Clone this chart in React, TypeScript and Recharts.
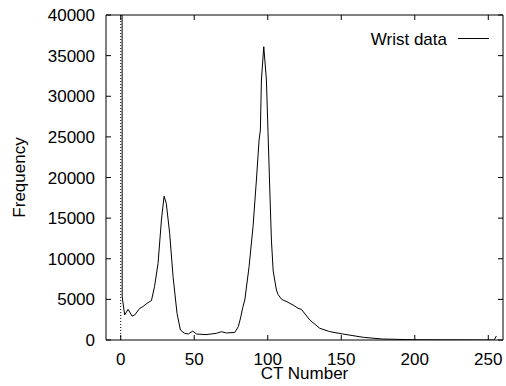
import React from "react";
import { LineChart, Line, XAxis, YAxis, ReferenceLine, ReferenceArea } from "recharts";

const ctNumbers = [0, 1, 2.7, 5, 7.7, 9.5, 13, 15, 18.6, 20.9, 23, 25.4, 27.7, 29.5, 31, 33.3, 35.6, 38.3, 40.6, 43.5, 46, 49, 51.5, 58, 65, 68.5, 72, 77.6, 80, 81.5, 83, 84.4, 87.3, 90, 92.3, 94.1, 95, 95.7, 97.3, 99.1, 100.2, 101.4, 102.5, 103.7, 105.9, 107, 109.5, 113.8, 118.4, 120.6, 122.9, 128.6, 135.4, 142.2, 151, 165, 178, 200, 230, 254, 255.5];
const frequencies = [1000000, 5300, 3080, 3780, 2950, 3080, 3900, 4100, 4600, 4850, 6560, 9430, 14770, 17700, 16820, 13130, 7800, 3280, 1230, 820, 740, 1100, 740, 660, 820, 1020, 860, 940, 1640, 2700, 4000, 4920, 9020, 13950, 19700, 24600, 25850, 32000, 36100, 32000, 25500, 18460, 12300, 8500, 6150, 5600, 5000, 4640, 4180, 3900, 3770, 2460, 1440, 1030, 740, 330, 120, 30, 10, 0, 500];
const xTicks = [0, 50, 100, 150, 200, 250];
const yTicks = [0, 5000, 10000, 15000, 20000, 25000, 30000, 35000, 40000];
const xDomain = [-10, 260];
const yDomain = [0, 40000];
const seriesName = "Wrist data";
const xLabel = "CT Number";
const yLabel = "Frequency";

const data = ctNumbers.map((x, i) => ({ x, y: frequencies[i] }));

const FONT = "'Liberation Sans', Arial, Helvetica, sans-serif";
const FS = 17;
const TICK_LEN = 5;

const BottomTick = (p: any) => (
  <text x={p.x} y={p.y + 25} textAnchor="middle" fontFamily={FONT} fontSize={FS} fill="#000">
    {p.payload.value}
  </text>
);
const LeftTick = (p: any) => (
  <text x={p.x - 11} y={p.y + 6} textAnchor="end" fontFamily={FONT} fontSize={FS} fill="#000">
    {p.payload.value}
  </text>
);

const VerticalTickShape = (p: any) => {
  const x = p.x1;
  const top = Math.min(p.y1, p.y2);
  const bottom = Math.max(p.y1, p.y2);
  return (
    <path
      d={`M${x},${bottom}V${bottom - TICK_LEN}M${x},${top}V${top + TICK_LEN}`}
      stroke="#000"
      strokeWidth={1}
      fill="none"
    />
  );
};
const HorizontalTickShape = (p: any) => {
  const y = p.y1;
  const left = Math.min(p.x1, p.x2);
  const right = Math.max(p.x1, p.x2);
  return (
    <path
      d={`M${left},${y}H${left + TICK_LEN}M${right},${y}H${right - TICK_LEN}`}
      stroke="#000"
      strokeWidth={1}
      fill="none"
    />
  );
};

export default function App() {
  return (
    <div style={{ position: "absolute", left: 0, top: 0, width: 506, height: 386 }}>
      <LineChart width={506} height={386} data={data} margin={{ top: 15, right: 3, bottom: 0, left: 0 }}>
        <XAxis
          dataKey="x"
          type="number"
          domain={xDomain}
          ticks={xTicks}
          interval={0}
          allowDataOverflow
          height={46}
          tickSize={0}
          tickMargin={0}
          tickLine={false}
          tick={BottomTick}
          axisLine={false}
          label={{
            content: (props: any) => {
              const vb = props.viewBox;
              return (
                <text x={vb.x + vb.width / 2} y={vb.y + 39} textAnchor="middle" fontFamily={FONT} fontSize={FS} fill="#000">
                  {xLabel}
                </text>
              );
            },
          }}
        />
        <YAxis
          type="number"
          domain={yDomain}
          ticks={yTicks}
          interval={0}
          allowDataOverflow
          width={106}
          tickSize={0}
          tickMargin={0}
          tickLine={false}
          tick={LeftTick}
          axisLine={false}
          label={{
            content: (props: any) => {
              const vb = props.viewBox;
              const cy = vb.y + vb.height / 2;
              return (
                <text x={25} y={cy} transform={`rotate(-90 25 ${cy})`} textAnchor="middle" fontFamily={FONT} fontSize={FS} fill="#000">
                  {yLabel}
                </text>
              );
            },
          }}
        />
        <ReferenceArea
          x1={xDomain[0]}
          x2={xDomain[1]}
          y1={yDomain[0]}
          y2={yDomain[1]}
          fill="none"
          fillOpacity={0}
          stroke="#000"
          strokeWidth={1}
          strokeOpacity={1}
        />
        {xTicks.map((t) => (
          <ReferenceLine key={`xt${t}`} x={t} stroke="#000" shape={VerticalTickShape} />
        ))}
        {yTicks.map((t) => (
          <ReferenceLine key={`yt${t}`} y={t} stroke="#000" shape={HorizontalTickShape} />
        ))}
        <ReferenceLine x={0} stroke="#000" strokeDasharray="1 2" strokeWidth={1} />
        <Line
          dataKey="y"
          name={seriesName}
          type="linear"
          stroke="#000"
          strokeWidth={1}
          dot={false}
          activeDot={false}
          isAnimationActive={false}
        />
      </LineChart>
      <svg width={506} height={60} style={{ position: "absolute", left: 0, top: 0, pointerEvents: "none" }}>
        <text x={447} y={44.5} textAnchor="end" fontFamily={FONT} fontSize={FS} fill="#000">
          {seriesName}
        </text>
        <line x1={458} x2={489} y1={38.5} y2={38.5} stroke="#000" strokeWidth={1} />
      </svg>
    </div>
  );
}
